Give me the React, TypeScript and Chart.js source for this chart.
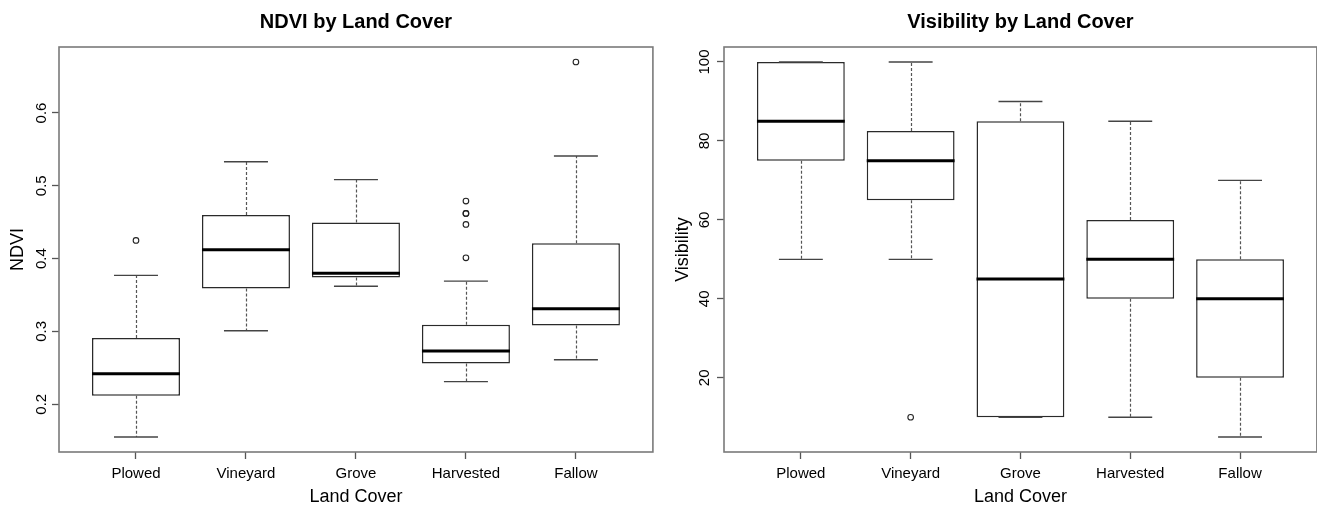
import React, { useEffect, useRef } from "react";
import { Chart, registerables } from "chart.js";

Chart.register(...registerables);

const FONT = "'Liberation Sans', Arial, Helvetica, sans-serif";
Chart.defaults.font.family = FONT;

// ---- shared categories ----
const categories = ["Plowed", "Vineyard", "Grove", "Harvested", "Fallow"];

// ---- NDVI panel ----
const ndviLowerWhisker = [0.155, 0.301, 0.362, 0.231, 0.261];
const ndviQ1 = [0.2115, 0.359, 0.374, 0.256, 0.308];
const ndviMedian = [0.242, 0.412, 0.38, 0.273, 0.331];
const ndviQ3 = [0.291, 0.46, 0.4495, 0.309, 0.421];
const ndviUpperWhisker = [0.377, 0.533, 0.5085, 0.369, 0.541];
const ndviOutliers = [[0.425], [], [], [0.479, 0.462, 0.462, 0.447, 0.401], [0.67]];
const ndviTicks = [0.2, 0.3, 0.4, 0.5, 0.6];
const ndviTickLabels = ["0.2", "0.3", "0.4", "0.5", "0.6"];

// ---- Visibility panel ----
const visLowerWhisker = [50, 50, 10, 10, 5];
const visQ1 = [75, 65, 10, 40, 20];
const visMedian = [85, 75, 45, 50, 40];
const visQ3 = [100, 82.5, 85, 60, 50];
const visUpperWhisker = [100, 100, 90, 85, 70];
const visOutliers = [[], [10], [], [], []];
const visTicks = [20, 40, 60, 80, 100];
const visTickLabels = ["20", "40", "60", "80", "100"];

type Spec = {
  title: string;
  yTitle: string;
  lower: number[];
  q1: number[];
  median: number[];
  q3: number[];
  upper: number[];
  outliers: number[][];
  ticks: number[];
  tickLabels: string[];
  yMin: number;
  yMax: number;
  yWidth: number;
  yTitlePad: number;
  canvasWidth: number;
  left: number;
};

function makeBoxPlugin(spec: Spec) {
  return {
    id: "boxExtras",
    afterDatasetsDraw(chart: any) {
      const { ctx, chartArea } = chart;
      const x = chart.scales.x;
      const y = chart.scales.y;
      ctx.save();
      for (let i = 0; i < categories.length; i++) {
        const c = i + 1;
        const cx = Math.round(x.getPixelForValue(c)) + 0.5;
        const capL = x.getPixelForValue(c - 0.2);
        const capR = x.getPixelForValue(c + 0.2);
        const boxL = x.getPixelForValue(c - 0.4);
        const boxR = x.getPixelForValue(c + 0.4);
        // dashed whiskers
        ctx.strokeStyle = "#555";
        ctx.lineWidth = 1.2;
        ctx.setLineDash([3, 2]);
        if (spec.upper[i] > spec.q3[i]) {
          ctx.beginPath();
          ctx.moveTo(cx, y.getPixelForValue(spec.q3[i]));
          ctx.lineTo(cx, y.getPixelForValue(spec.upper[i]));
          ctx.stroke();
        }
        if (spec.lower[i] < spec.q1[i]) {
          ctx.beginPath();
          ctx.moveTo(cx, y.getPixelForValue(spec.q1[i]));
          ctx.lineTo(cx, y.getPixelForValue(spec.lower[i]));
          ctx.stroke();
        }
        ctx.setLineDash([]);
        // caps
        ctx.strokeStyle = "#444";
        ctx.lineWidth = 1.4;
        for (const v of [spec.upper[i], spec.lower[i]]) {
          const py = y.getPixelForValue(v);
          ctx.beginPath();
          ctx.moveTo(capL, py);
          ctx.lineTo(capR, py);
          ctx.stroke();
        }
        // median
        ctx.strokeStyle = "#000";
        ctx.lineWidth = 3;
        const my = y.getPixelForValue(spec.median[i]);
        ctx.beginPath();
        ctx.moveTo(boxL, my);
        ctx.lineTo(boxR, my);
        ctx.stroke();
      }
      // frame
      ctx.strokeStyle = "#7a7a7a";
      ctx.lineWidth = 1.6;
      ctx.strokeRect(
        chartArea.left,
        chartArea.top,
        chartArea.right - chartArea.left,
        chartArea.bottom - chartArea.top
      );
      ctx.restore();
    },
  };
}

function BoxChart({ spec }: { spec: Spec }) {
  const ref = useRef<HTMLCanvasElement | null>(null);
  useEffect(() => {
    if (!ref.current) return;
    const boxData = categories.map((_, i) => ({ x: i + 1, y: [spec.q1[i], spec.q3[i]] }));
    const outData: { x: number; y: number }[] = [];
    spec.outliers.forEach((arr, i) => arr.forEach((v) => outData.push({ x: i + 1, y: v })));
    const chart = new Chart(ref.current, {
      type: "bar",
      data: {
        datasets: [
          {
            type: "bar",
            data: boxData as any,
            backgroundColor: "#ffffff",
            borderColor: "#2a2a2a",
            borderWidth: 1.5,
            borderSkipped: false,
            categoryPercentage: 0.8,
            barPercentage: 1,
          } as any,
          {
            type: "scatter",
            data: outData,
            pointStyle: "circle",
            pointRadius: 2.8,
            borderColor: "#222222",
            backgroundColor: "rgba(0,0,0,0)",
            borderWidth: 1.1,
            showLine: false,
          } as any,
        ],
      },
      options: {
        animation: false,
        responsive: false,
        events: [],
        layout: { padding: { left: 0, right: 4, top: 0, bottom: 0 } },
        plugins: {
          legend: { display: false },
          tooltip: { enabled: false },
          title: {
            display: true,
            text: spec.title,
            fullSize: false,
            color: "#000",
            font: { family: FONT, size: 20, weight: "bold", lineHeight: 1 },
            padding: { top: 12, bottom: 15 },
          },
        },
        scales: {
          x: {
            type: "linear",
            min: 0.3,
            max: 5.7,
            offset: false,
            afterBuildTicks: (s: any) => {
              s.ticks = categories.map((_, i) => ({ value: i + 1 }));
            },
            afterFit: (s: any) => {
              s.height = 54;
            },
            ticks: {
              callback: (_v: any, idx: number) => categories[idx],
              autoSkip: false,
              maxRotation: 0,
              minRotation: 0,
              padding: 6,
              color: "#000",
              font: { family: FONT, size: 15 },
            },
            grid: {
              display: true,
              drawOnChartArea: false,
              drawTicks: true,
              tickLength: 7,
              color: "#555",
              tickWidth: 1.3,
              offset: false,
            },
            border: { display: false },
            title: {
              display: true,
              text: "Land Cover",
              color: "#000",
              font: { family: FONT, size: 18, lineHeight: 1 },
              padding: { top: 0, bottom: 0 },
            },
          },
          y: {
            type: "linear",
            min: spec.yMin,
            max: spec.yMax,
            afterBuildTicks: (s: any) => {
              s.ticks = spec.ticks.map((v) => ({ value: v }));
            },
            afterFit: (s: any) => {
              s.width = spec.yWidth;
            },
            ticks: {
              callback: (_v: any, idx: number) => spec.tickLabels[idx],
              autoSkip: false,
              minRotation: 90,
              maxRotation: 90,
              crossAlign: "center",
              padding: 0,
              color: "#000",
              font: { family: FONT, size: 15 },
            },
            grid: {
              display: true,
              drawOnChartArea: false,
              drawTicks: true,
              tickLength: 7,
              color: "#555",
              tickWidth: 1.3,
            },
            border: { display: false },
            title: {
              display: true,
              text: spec.yTitle,
              color: "#000",
              font: { family: FONT, size: 18, lineHeight: 1 },
              padding: { top: spec.yTitlePad, bottom: 0 },
            },
          },
        },
      } as any,
      plugins: [makeBoxPlugin(spec)],
    });
    return () => chart.destroy();
  }, [spec]);
  return (
    <canvas
      ref={ref}
      width={spec.canvasWidth}
      height={506}
      style={{ position: "absolute", left: spec.left, top: 0, width: spec.canvasWidth, height: 506 }}
    />
  );
}

const ndviSpec: Spec = {
  title: "NDVI by Land Cover",
  yTitle: "NDVI",
  lower: ndviLowerWhisker,
  q1: ndviQ1,
  median: ndviMedian,
  q3: ndviQ3,
  upper: ndviUpperWhisker,
  outliers: ndviOutliers,
  ticks: ndviTicks,
  tickLabels: ndviTickLabels,
  yMin: 0.1344,
  yMax: 0.6906,
  yWidth: 59,
  yTitlePad: 9,
  canvasWidth: 658,
  left: 0,
};

const visSpec: Spec = {
  title: "Visibility by Land Cover",
  yTitle: "Visibility",
  lower: visLowerWhisker,
  q1: visQ1,
  median: visMedian,
  q3: visQ3,
  upper: visUpperWhisker,
  outliers: visOutliers,
  ticks: visTicks,
  tickLabels: visTickLabels,
  yMin: 1.2,
  yMax: 103.8,
  yWidth: 66,
  yTitlePad: 16,
  canvasWidth: 664,
  left: 658,
};

export default function App() {
  return (
    <div
      style={{
        position: "fixed",
        left: 0,
        top: 0,
        width: 1317,
        height: 506,
        overflow: "hidden",
        background: "#fff",
      }}
    >
      <BoxChart spec={ndviSpec} />
      <BoxChart spec={visSpec} />
    </div>
  );
}
